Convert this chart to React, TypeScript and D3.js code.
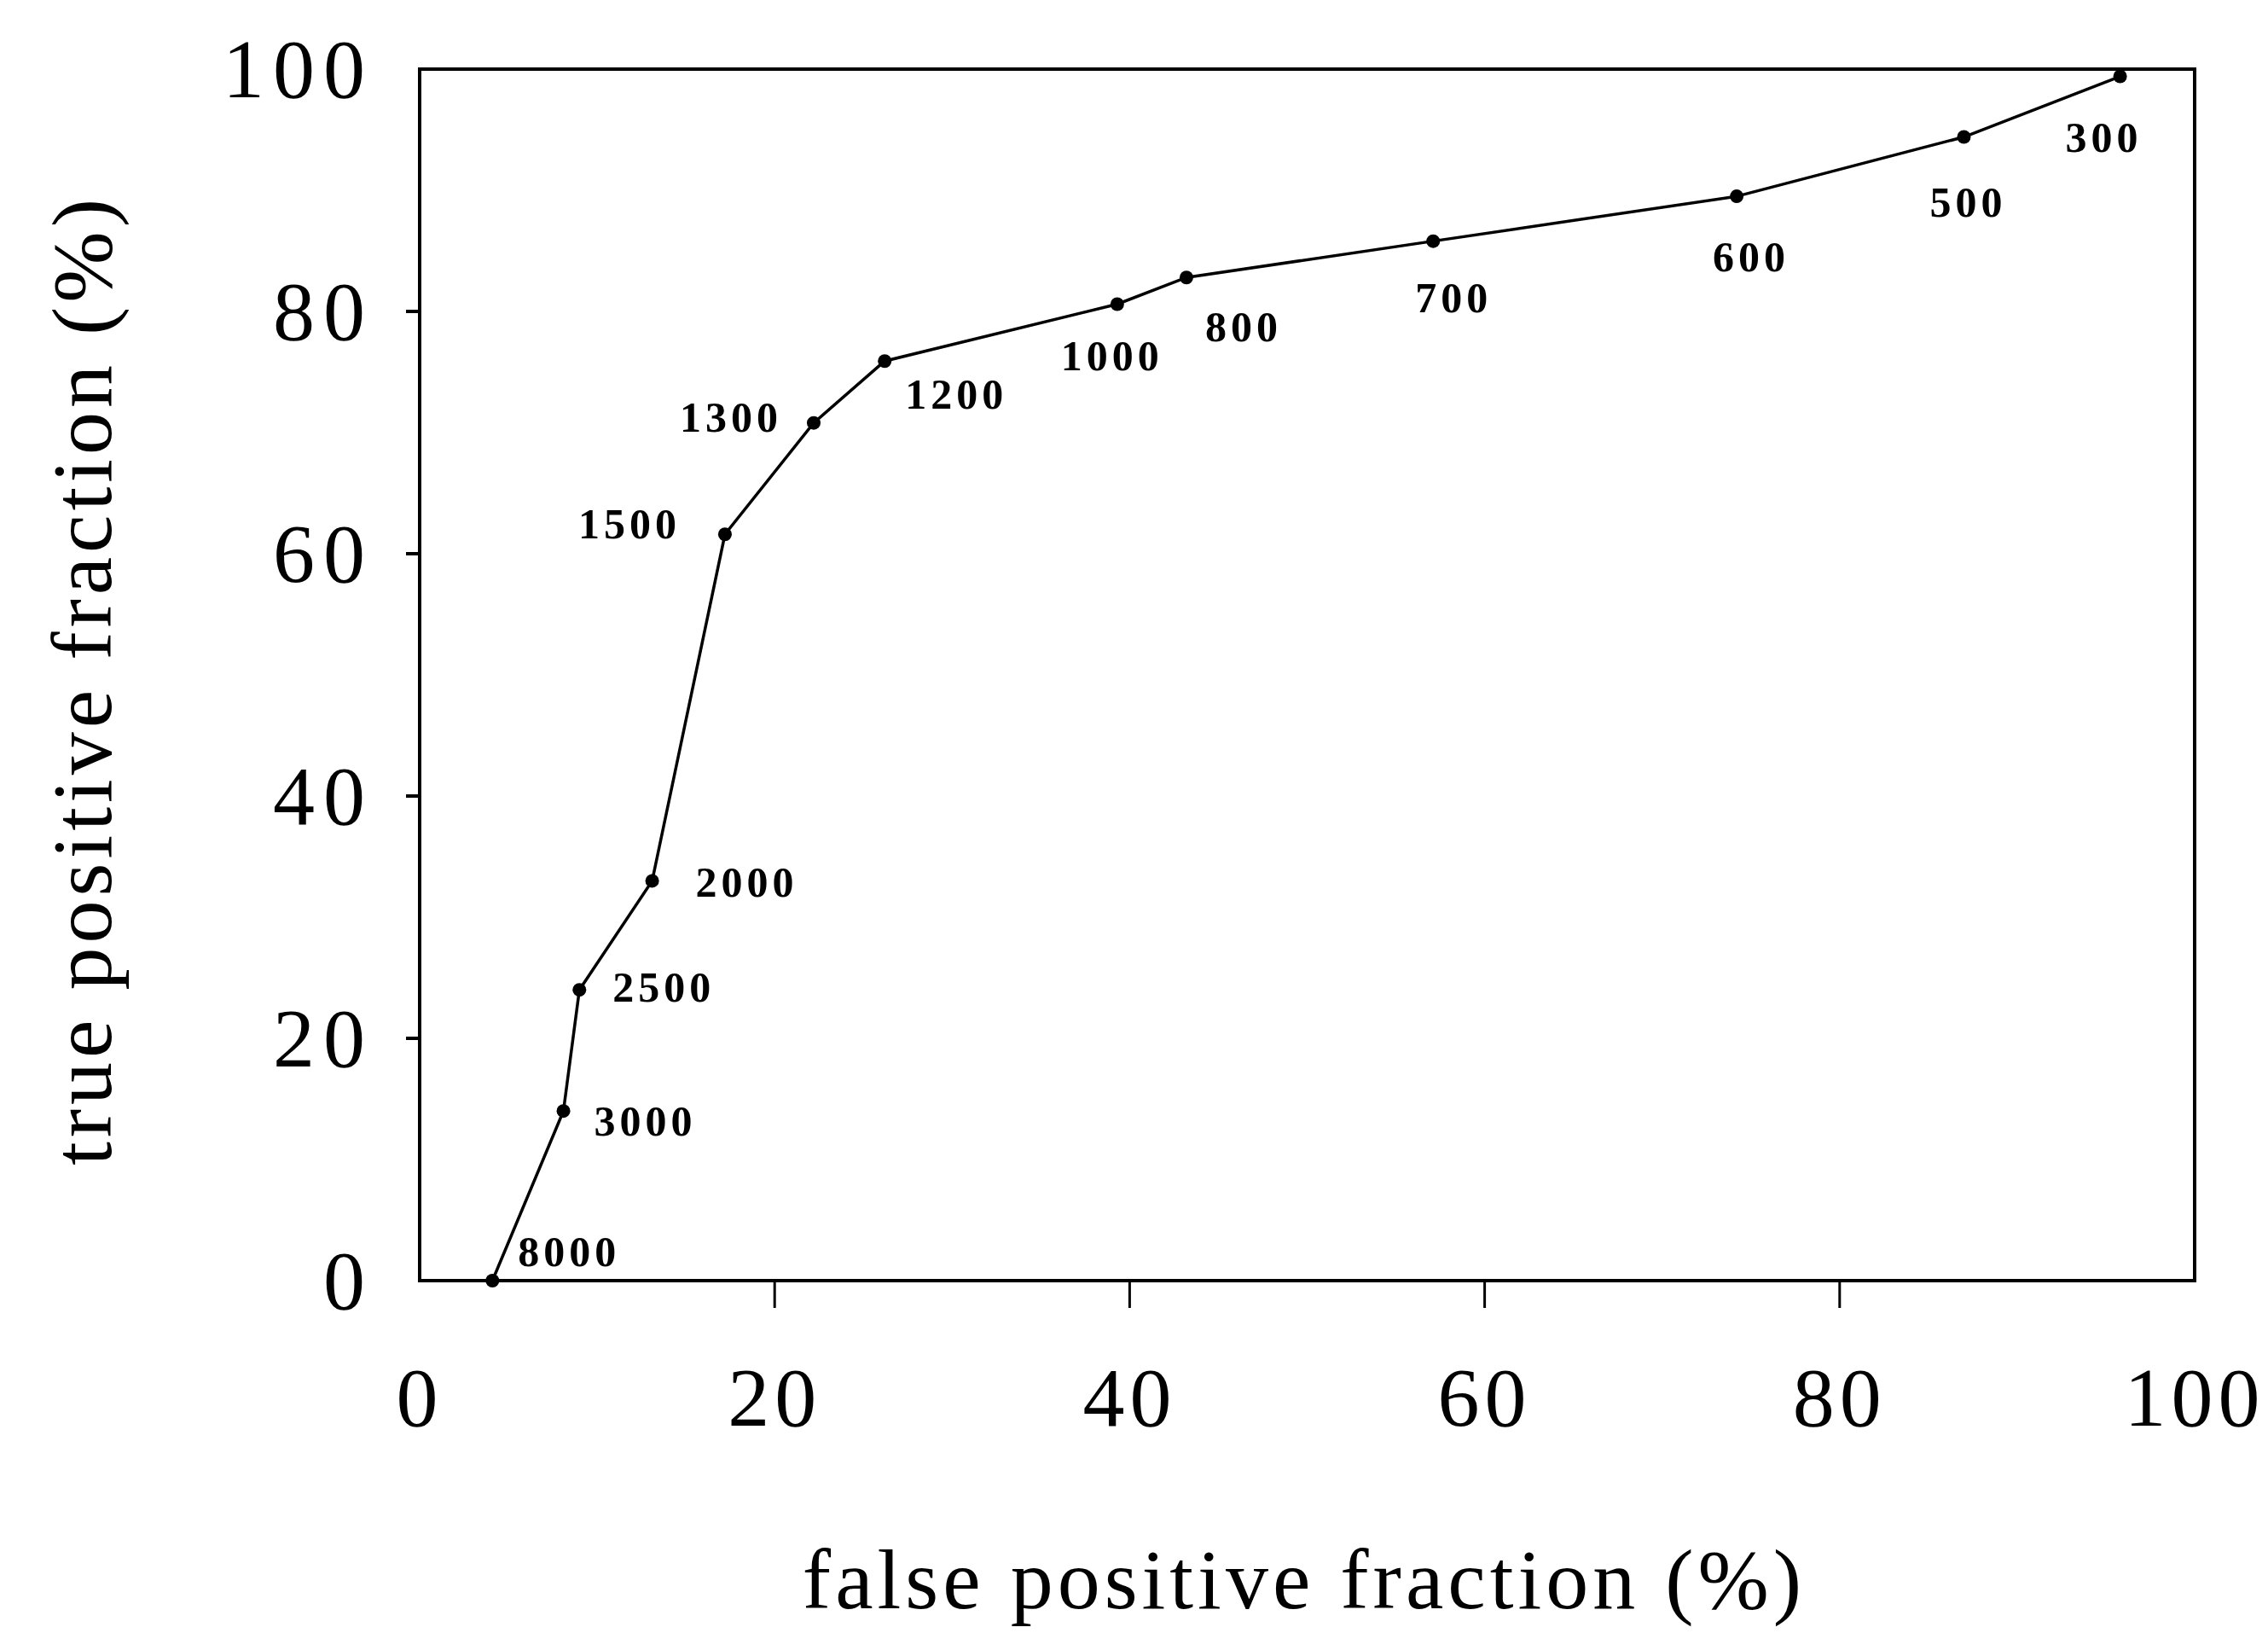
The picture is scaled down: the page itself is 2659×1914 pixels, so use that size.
import React from 'react';
import * as d3 from 'd3';

// ROC points, threshold labels
const thresholds = ['8000', '3000', '2500', '2000', '1500', '1300', '1200', '1000', '800', '700', '600', '500', '300'];
const falsePositive = [4.1, 8.1, 9.0, 13.1, 17.2, 22.2, 26.2, 39.3, 43.2, 57.1, 74.2, 87.0, 95.8];
const truePositive = [0, 14.0, 24.0, 33.0, 61.6, 70.8, 75.9, 80.6, 82.8, 85.8, 89.5, 94.4, 99.4];
const xTicks = [0, 20, 40, 60, 80, 100];
const yTicks = [0, 20, 40, 60, 80, 100];

// where each threshold label sits relative to its point
const labelPlace: Record<string, { dx: number; dy: number; anchor: string }> = {
  '8000': { dx: 30, dy: -17, anchor: 'start' },
  '3000': { dx: 36, dy: 29, anchor: 'start' },
  '2500': { dx: 39, dy: 14, anchor: 'start' },
  '2000': { dx: 51, dy: 19, anchor: 'start' },
  '1500': { dx: -52, dy: 5, anchor: 'end' },
  '1300': { dx: -37, dy: 10, anchor: 'end' },
  '1200': { dx: 24, dy: 56, anchor: 'start' },
  '1000': { dx: -6, dy: 78, anchor: 'middle' },
  '800': { dx: 22, dy: 75, anchor: 'start' },
  '700': { dx: 24, dy: 83, anchor: 'middle' },
  '600': { dx: 17, dy: 88, anchor: 'middle' },
  '500': { dx: 5, dy: 93, anchor: 'middle' },
  '300': { dx: -19, dy: 88, anchor: 'middle' },
};

const W = 2659;
const H = 1914;
const margin = { left: 492, right: 86, top: 81, bottom: 413 };
const font = '"Liberation Serif", "Times New Roman", serif';

export default function App() {
  const x = d3.scaleLinear().domain([0, 100]).range([margin.left, W - margin.right]);
  const y = d3.scaleLinear().domain([0, 100]).range([H - margin.bottom, margin.top]);

  const points = falsePositive.map((fp, i) => ({ fp, tp: truePositive[i], label: thresholds[i] }));
  const line = d3
    .line<{ fp: number; tp: number }>()
    .x((d) => x(d.fp))
    .y((d) => y(d.tp));

  const x0 = x(0), x1 = x(100), y0 = y(0), y1 = y(100);

  return (
    <svg
      width={W}
      height={H}
      style={{ position: 'absolute', left: 0, top: 0, background: '#fff' }}
      fontFamily={font}
    >
      <rect x={0} y={0} width={W} height={H} fill="#fff" />
      {/* frame */}
      <rect x={x0} y={y1} width={x1 - x0} height={y0 - y1} fill="none" stroke="#000" strokeWidth={4} />

      {/* x ticks */}
      {xTicks.map((t) => (
        <g key={'x' + t}>
          {t > 0 && t < 100 && <line x1={x(t)} x2={x(t)} y1={y0} y2={y0 + 32} stroke="#000" strokeWidth={3} />}
          <text x={x(t)} y={1671} textAnchor="middle" fontSize={98} letterSpacing={6}>
            {t}
          </text>
        </g>
      ))}

      {/* y ticks */}
      {yTicks.map((t) => (
        <g key={'y' + t}>
          {t > 0 && t < 100 && <line x1={x0 - 16} x2={x0} y1={y(t)} y2={y(t)} stroke="#000" strokeWidth={4} />}
          <text x={438} y={y(t) + 33} textAnchor="end" fontSize={98} letterSpacing={10}>
            {t}
          </text>
        </g>
      ))}

      {/* axis titles */}
      <text x={1529} y={1885} textAnchor="middle" fontSize={100} letterSpacing={5}>
        false positive fraction (%)
      </text>
      <text
        transform={`translate(130, 797) rotate(-90)`}
        textAnchor="middle"
        fontSize={100}
        letterSpacing={5}
      >
        true positive fraction (%)
      </text>

      {/* ROC curve */}
      <path d={line(points) || ''} fill="none" stroke="#000" strokeWidth={3.5} />
      {points.map((p) => (
        <circle key={'c' + p.label} cx={x(p.fp)} cy={y(p.tp)} r={8} fill="#000" />
      ))}
      {points.map((p) => {
        const pl = labelPlace[p.label];
        return (
          <text
            key={'t' + p.label}
            x={x(p.fp) + pl.dx}
            y={y(p.tp) + pl.dy}
            textAnchor={pl.anchor}
            fontSize={50}
            fontWeight={600}
            letterSpacing={5}
          >
            {p.label}
          </text>
        );
      })}
    </svg>
  );
}
